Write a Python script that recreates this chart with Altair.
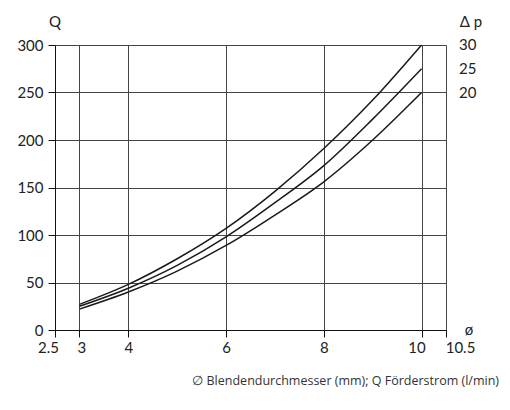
import altair as alt
import pandas as pd

diam = [3, 4, 5, 6, 7, 8, 9, 10]
q_dp30 = [27, 48, 75, 107, 146, 191, 242, 300]
q_dp25 = [25, 44, 68, 98, 134, 173, 222, 275]
q_dp20 = [22, 40, 62, 89, 121, 156, 200, 250]
dp_labels = ["30", "25", "20"]
x_ticks = [2.5, 3, 4, 6, 8, 10, 10.5]
y_ticks = [0, 50, 100, 150, 200, 250, 300]

rows = []
for lab, series in zip(dp_labels, [q_dp30, q_dp25, q_dp20]):
    for d, q in zip(diam, series):
        rows.append({"d": d, "Q": q, "dp": lab})
df = pd.DataFrame(rows)

end_df = pd.DataFrame({"d": [10.5] * 3, "Q": [q_dp30[-1], q_dp25[-1], q_dp20[-1]], "lab": dp_labels})
head_df = pd.DataFrame({"d": [2.5, 10.5], "Q": [300, 300], "lab": ["Q", "Δ p"]})
phi_df = pd.DataFrame({"d": [10.5], "Q": [0], "lab": ["ø"]})

FONT = "Lato"
xs = alt.Scale(domain=[2.5, 10.5], nice=False, zero=False)
ys = alt.Scale(domain=[0, 300], nice=False)

x_label_offset = {
    "condition": [
        {"test": "datum.value == 10.5", "value": 14},
        {"test": "datum.value == 2.5", "value": -7},
        {"test": "datum.value == 10", "value": -5},
        {"test": "datum.value == 3", "value": 2},
    ],
    "value": 0,
}

lines = alt.Chart(df).mark_line(color="#1a1a1a", strokeWidth=1.5, interpolate="monotone").encode(
    x=alt.X("d:Q", scale=xs, axis=alt.Axis(values=x_ticks, title=None, grid=True, gridColor="#444",
                                          gridOpacity=1, domainColor="#111", tickColor="#111", tickSize=7,
                                          labelFontSize=15, labelFont=FONT, labelColor="#222", labelPadding=3,
                                          labelFlush=False, labelOverlap=False, labelOffset=x_label_offset,
                                          labelExpr="toString(datum.value)")),
    y=alt.Y("Q:Q", scale=ys, axis=alt.Axis(values=y_ticks, title=None, grid=True, gridColor="#444",
                                          gridOpacity=1, domainColor="#111", tickColor="#111", tickSize=7,
                                          labelFontSize=15, labelFont=FONT, labelColor="#222", labelPadding=5,
                                          labelFlush=False)),
    detail="dp:N",
)

ends = alt.Chart(end_df).mark_text(align="left", baseline="middle", dx=13, fontSize=15, font=FONT, color="#222").encode(
    x=alt.X("d:Q", scale=xs), y=alt.Y("Q:Q", scale=ys), text="lab:N")

q_head = alt.Chart(head_df.iloc[[0]]).mark_text(align="center", baseline="middle", dy=-23, fontSize=15, font=FONT, color="#222").encode(
    x=alt.X("d:Q", scale=xs), y=alt.Y("Q:Q", scale=ys), text="lab:N")
dp_head = alt.Chart(head_df.iloc[[1]]).mark_text(align="center", baseline="middle", dy=-23, dx=25, fontSize=15, font=FONT, color="#222").encode(
    x=alt.X("d:Q", scale=xs), y=alt.Y("Q:Q", scale=ys), text="lab:N")

phi = alt.Chart(phi_df).mark_text(align="center", baseline="middle", dx=23, fontSize=15, font=FONT, color="#222").encode(
    x=alt.X("d:Q", scale=xs), y=alt.Y("Q:Q", scale=ys), text="lab:N")

chart = alt.layer(lines, ends, q_head, dp_head, phi).properties(
    width=391,
    height=285,
    autosize=alt.AutoSizeParams(type="none"),
    padding={"left": 47, "top": 37, "right": 56, "bottom": 70},
    title=alt.TitleParams("∅ Blendendurchmesser (mm); Q Förderstrom (l/min)", orient="bottom", anchor="end",
                          frame="group", dx=53, offset=20, fontSize=12.5, font="Open Sans",
                          fontWeight="normal", color="#333"),
).configure_view(stroke=None)

chart.save("out.html", embed_options={"renderer": "svg", "actions": False})
